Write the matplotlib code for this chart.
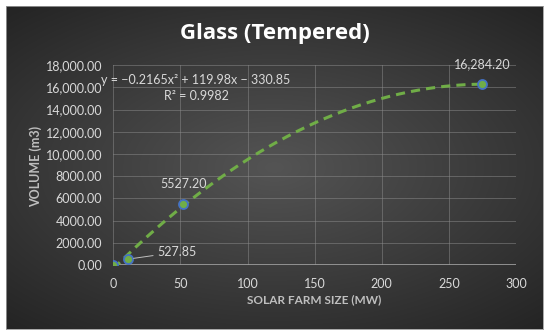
import numpy as np
import matplotlib
matplotlib.use("Agg")
import matplotlib.pyplot as plt

# Data
x_vals = [0, 11, 52, 275]
y_vals = [0, 527.85, 5527.20, 16284.20]
point_labels = ["", "527.85", "5527.20", "16,284.20"]
coef = [-0.2165, 119.98, -330.85]
r2 = 0.9982
y_ticks = [0, 2000, 4000, 6000, 8000, 10000, 12000, 14000, 16000, 18000]
y_tick_labels = ["0.00", "2000.00", "4000.00", "6000.00", "8000.00", "10,000.00",
                 "12,000.00", "14,000.00", "16,000.00", "18,000.00"]
x_ticks = [0, 50, 100, 150, 200, 250, 300]

plt.rcParams['font.family'] = ['Lato', 'DejaVu Sans']
txt = '#d9d9d9'

fig = plt.figure(figsize=(5.5, 3.36), dpi=100)
fig.patch.set_facecolor('white')

# background gradient panel
bg = fig.add_axes([6/550, 7/336, 537/550, 323/336])
yy, xx = np.mgrid[-1:1:200j, -1:1:300j]
r = np.sqrt((xx * 0.9) ** 2 + (yy * 1.0) ** 2)
val = np.clip(0.33 - 0.14 * r, 0.14, 0.35)
bg.imshow(np.dstack([val, val, val]), aspect='auto', extent=[0, 1, 0, 1], interpolation='bilinear')
bg.set_xticks([]); bg.set_yticks([])
for s in bg.spines.values():
    s.set_color('#9a9a9a'); s.set_linewidth(0.6)

ax = fig.add_axes([113.3/550, 71/336, (516-113.3)/550, (265-65.2)/336])
ax.set_facecolor('none')
ax.set_xlim(0, 300)
ax.set_ylim(0, 18000)
ax.set_xticks(x_ticks)
ax.set_yticks(y_ticks)
ax.set_yticklabels(y_tick_labels)
ax.tick_params(axis='both', colors=txt, labelsize=9, length=0)
ax.tick_params(axis='y', pad=8)
ax.tick_params(axis='x', pad=9)
ax.grid(True, color='#8a8a8a', linewidth=0.6, alpha=0.6)
ax.set_axisbelow(True)
for k, s in ax.spines.items():
    s.set_visible(False)
ax.axhline(0, color='#a0a0a0', linewidth=1.2, zorder=1)

# trendline
xt = np.linspace(0, 275, 200)
yt = coef[0] * xt**2 + coef[1] * xt + coef[2]
ax.plot(xt, yt, linestyle=(0, (3, 2)), color='#70ad47', linewidth=2.2, zorder=2)

ax.plot(x_vals, y_vals, 'o', markersize=6.5, markerfacecolor='#70ad47',
        markeredgecolor='#4472c4', markeredgewidth=1.3, zorder=3, linestyle='none')

# data labels
ax.annotate(point_labels[3], (x_vals[3], y_vals[3]), xytext=(0, 10), textcoords='offset points',
            ha='center', va='bottom', color=txt, fontsize=9)
ax.annotate(point_labels[2], (x_vals[2], y_vals[2]), xytext=(0, 10), textcoords='offset points',
            ha='center', va='bottom', color=txt, fontsize=9)
ax.annotate(point_labels[1], (x_vals[1], y_vals[1]), xytext=(21, 5), textcoords='offset points',
            ha='left', va='center', color=txt, fontsize=9,
            arrowprops=dict(arrowstyle='-', color='#bfbfbf', lw=0.7, shrinkA=1, shrinkB=4))

eq = "y = \u22120.2165x\u00b2 + 119.98x \u2212 330.85\nR\u00b2 = 0.9982"
fig.text(196/550, 1 - 88/336, eq, ha='center', va='center', color=txt, fontsize=9,
         linespacing=1.3, multialignment='center')

fig.text(275/550, 1 - 33/336, "Glass (Tempered)", ha='center', va='center', color='white',
         fontsize=16, fontweight='bold', family=['Open Sans', 'DejaVu Sans'])
fig.text(314.5/550, 1 - 300/336, "SOLAR FARM SIZE (MW)", ha='center', va='center', color='#bfbfbf',
         fontsize=8.5, fontweight='bold')
fig.text(36/550, 1 - 166/336, "VOLUME (m3)", ha='center', va='center', color='#bfbfbf',
         fontsize=9, fontweight='bold', rotation=90)

fig.savefig('out.png', dpi=100, facecolor='white')
